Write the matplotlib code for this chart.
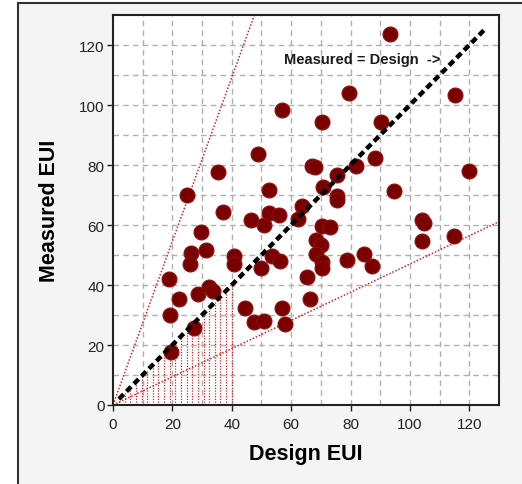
import matplotlib
matplotlib.use("Agg")
import matplotlib.pyplot as plt
from matplotlib.patches import Rectangle
import numpy as np

plt.rcParams['font.family'] = ['Liberation Sans', 'DejaVu Sans']

design = [93.2, 79.5, 115.2, 56.9, 70.5, 90.1, 48.9, 88.1, 35.5, 67.0, 68.0,
          81.7, 75.3, 119.9, 25.0, 52.4, 70.7, 94.5, 75.3, 75.3, 37.2, 46.5,
          50.9, 52.4, 55.8, 63.8, 62.3, 104.2, 104.6, 104.0, 114.9, 29.7,
          26.4, 26.0, 31.2, 40.9, 40.9, 49.8, 53.7, 56.3, 68.3, 69.9, 70.5,
          73.1, 68.3, 70.5, 70.3, 78.9, 84.7, 87.3, 18.9, 19.1, 22.2, 28.7,
          32.2, 33.6, 44.6, 47.6, 50.9, 56.9, 58.0, 65.5, 66.4, 27.3, 19.4]
measured = [123.6, 103.9, 103.2, 98.2, 94.4, 94.4, 83.8, 82.5, 77.6, 79.8, 79.2,
            79.6, 76.8, 77.9, 70.1, 71.8, 72.8, 71.2, 69.8, 68.2, 64.4, 61.6,
            59.9, 64.0, 63.5, 66.5, 62.0, 61.8, 60.7, 54.6, 56.4, 57.6,
            50.7, 46.9, 51.6, 49.6, 46.9, 45.8, 49.6, 48.0, 55.0, 53.5, 59.6,
            59.3, 50.2, 47.6, 45.8, 48.5, 50.3, 46.3, 41.9, 29.9, 35.2, 36.9,
            39.4, 38.0, 32.5, 27.7, 28.0, 32.5, 26.9, 42.8, 35.2, 25.8, 17.7]

upper_slope = 2.73
lower_slope = 0.47
hatch_limit = 40
hatch_count = 21

fig = plt.figure(figsize=(5.22, 4.85), dpi=100)
fig.patch.set_facecolor('white')
frame = Rectangle((18 / 522, -0.1), 1.2, (485 - 4) / 485 + 0.1, transform=fig.transFigure,
                  facecolor='#f4f4f4', edgecolor='#333333', linewidth=1.5, zorder=-10)
fig.patches.append(frame)

ax = fig.add_axes([113 / 522, (485 - 406) / 485, (499 - 113) / 522, (406 - 16) / 485])
ax.set_facecolor('white')
ax.set_xlim(0, 130)
ax.set_ylim(0, 130)

# grid
for v in range(10, 130, 10):
    ax.axvline(v, color='#b0b0b0', ls=(0, (4, 3)), lw=1, zorder=0)
    ax.axhline(v, color='#b0b0b0', ls=(0, (4, 3)), lw=1, zorder=0)

# hatched region under the 1:1 line up to x=40
for hx in np.linspace(2, hatch_limit, hatch_count):
    ax.plot([hx, hx], [0, hx], color='#e02020', ls=(0, (1, 1.2)), lw=0.9, zorder=1)

# envelope lines
xs = np.array([0, 130])
ax.plot(xs, upper_slope * xs, color='#e02020', ls=(0, (1, 1.2)), lw=1.1, zorder=1)
ax.plot(xs, lower_slope * xs, color='#e02020', ls=(0, (1, 1.2)), lw=1.1, zorder=1)

ax.scatter(design, measured, s=115, color='#7a0000', edgecolors='#8e1010',
           linewidths=0.8, zorder=3)

ax.plot([2, 125], [2, 125], color='black', ls=(0, (1.5, 0.9)), lw=3.2, zorder=4)

ax.text(57.5, 115.3, 'Measured = Design  ->', fontsize=10.5, fontweight='bold',
        color='#1a1a1a', va='center', ha='left', zorder=5)

ax.set_xticks(range(0, 121, 20))
ax.set_yticks(range(0, 121, 20))
ax.tick_params(direction='out', length=4, width=1, labelsize=11, colors='#222222')
ax.tick_params(axis='x', pad=5)
ax.tick_params(axis='y', pad=2)
for s in ax.spines.values():
    s.set_linewidth(1.5)
    s.set_color('#222222')

ax.set_xlabel('Design EUI', fontsize=15.5, fontweight='bold', labelpad=8)
ax.set_ylabel('Measured EUI', fontsize=15.5, fontweight='bold', labelpad=14)

fig.savefig('out.png', dpi=100)
